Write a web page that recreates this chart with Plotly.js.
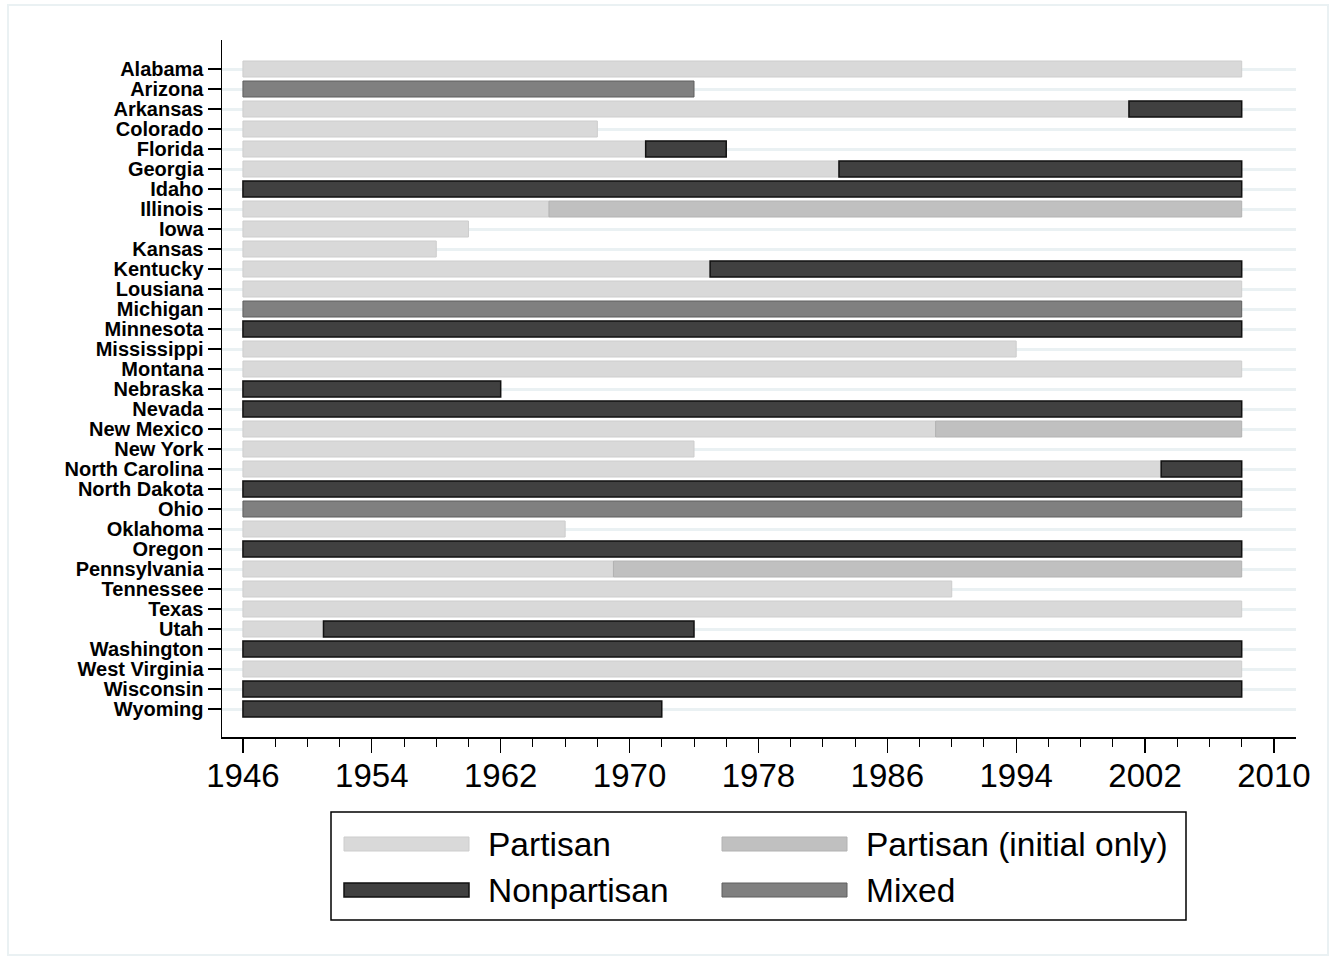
<!DOCTYPE html>
<html>
<head>
<meta charset="utf-8">
<script src="https://cdn.plot.ly/plotly-3.0.1.min.js"></script>
<style>html,body{margin:0;padding:0;background:#fff;}#chart{width:1333px;height:960px;}</style>
</head>
<body>
<div id="chart"></div>
<script>
// ---- Data ----
const states = ["Alabama","Arizona","Arkansas","Colorado","Florida","Georgia","Idaho","Illinois","Iowa","Kansas","Kentucky","Lousiana","Michigan","Minnesota","Mississippi","Montana","Nebraska","Nevada","New Mexico","New York","North Carolina","North Dakota","Ohio","Oklahoma","Oregon","Pennsylvania","Tennessee","Texas","Utah","Washington","West Virginia","Wisconsin","Wyoming"];

const partisanStates = ["Alabama","Arkansas","Colorado","Florida","Georgia","Illinois","Iowa","Kansas","Kentucky","Lousiana","Mississippi","Montana","New Mexico","New York","North Carolina","Oklahoma","Pennsylvania","Tennessee","Texas","Utah","West Virginia"];
const partisanStart  = [1946,1946,1946,1946,1946,1946,1946,1946,1946,1946,1946,1946,1946,1946,1946,1946,1946,1946,1946,1946,1946];
const partisanEnd    = [2008,2001,1968,1971,1983,1965,1960,1958,1975,2008,1994,2008,1989,1974,2003,1966,1969,1990,2008,1951,2008];

const initialStates = ["Illinois","New Mexico","Pennsylvania"];
const initialStart  = [1965,1989,1969];
const initialEnd    = [2008,2008,2008];

const nonpartisanStates = ["Arkansas","Florida","Georgia","Idaho","Kentucky","Minnesota","Nebraska","Nevada","North Carolina","North Dakota","Oregon","Utah","Washington","Wisconsin","Wyoming"];
const nonpartisanStart  = [2001,1971,1983,1946,1975,1946,1946,1946,2003,1946,1946,1951,1946,1946,1946];
const nonpartisanEnd    = [2008,1976,2008,2008,2008,2008,1962,2008,2008,2008,2008,1974,2008,2008,1972];

const mixedStates = ["Arizona","Michigan","Ohio"];
const mixedStart  = [1946,1946,1946];
const mixedEnd    = [1974,2008,2008];

const legendLabels = ["Partisan","Partisan (initial only)","Nonpartisan","Mixed"];

// ---- Styles ----
const styles = {
  "Partisan": {fill:"#d9d9d9", line:"#cdcdcd", lw:1},
  "Partisan (initial only)": {fill:"#c0c0c0", line:"#b2b2b2", lw:1},
  "Nonpartisan": {fill:"#404040", line:"#111111", lw:1.5},
  "Mixed": {fill:"#808080", line:"#5e5e5e", lw:1}
};

function seg(name, ys, s, e){
  const st = styles[name];
  return {
    type:"bar", orientation:"h", name:name,
    y: ys, base: s, x: e.map((v,i)=>v - s[i]),
    width: 0.8,
    marker:{color:st.fill, line:{color:st.line, width:st.lw}},
    showlegend:false, hoverinfo:"skip"
  };
}

const traces = [
  seg("Partisan", partisanStates, partisanStart, partisanEnd),
  seg("Partisan (initial only)", initialStates, initialStart, initialEnd),
  seg("Nonpartisan", nonpartisanStates, nonpartisanStart, nonpartisanEnd),
  seg("Mixed", mixedStates, mixedStart, mixedEnd)
];

// ---- Layout geometry ----
const L = 222, R = 1296, T = 40, B = 737;
const W = 1333, H = 960;
const pw = R - L, ph = B - T;
const px = v => (v - L) / pw;
const py = v => (B - v) / ph;

const shapes = [];
const annotations = [];

// outer light frame
shapes.push({type:"rect", xref:"paper", yref:"paper",
  x0: px(8), x1: px(1328), y0: py(955), y1: py(5),
  line:{color:"#eaf1f3", width:2}, fillcolor:"rgba(0,0,0,0)", layer:"below"});

// legend box
shapes.push({type:"rect", xref:"paper", yref:"paper",
  x0: px(331), x1: px(1186), y0: py(920), y1: py(812),
  line:{color:"#000", width:1.5}, fillcolor:"#fff"});

const legPos = [
  {sx:344, tx:486, cy:844},
  {sx:722, tx:864, cy:844},
  {sx:344, tx:486, cy:890},
  {sx:722, tx:864, cy:890}
];
legendLabels.forEach((lab,i)=>{
  const st = styles[lab], p = legPos[i];
  shapes.push({type:"rect", xref:"paper", yref:"paper",
    x0: px(p.sx), x1: px(p.sx+125), y0: py(p.cy+7), y1: py(p.cy-7),
    line:{color:st.line, width:st.lw}, fillcolor:st.fill});
  annotations.push({xref:"paper", yref:"paper", x: px(p.tx), y: py(p.cy),
    xanchor:"left", yanchor:"middle", showarrow:false, text: lab,
    font:{family:"Liberation Sans, Arial, sans-serif", size:33.5, color:"#000"}});
});

const layout = {
  width: W, height: H,
  margin:{l:L, r:W-R, t:T, b:H-B, pad:0},
  paper_bgcolor:"#fff", plot_bgcolor:"#fff",
  barmode:"overlay",
  font:{family:"Liberation Sans, Arial, sans-serif", color:"#000"},
  showlegend:false,
  xaxis:{
    range:[1944.7, 2011.37],
    tickmode:"linear", tick0:1946, dtick:8,
    ticks:"outside", ticklen:14, tickwidth:1.3, tickcolor:"#000",
    showline:true, linecolor:"#000", linewidth:1.5,
    showgrid:false, zeroline:false,
    tickfont:{size:33, color:"#000"},
    ticklabelstandoff:-5,
    minor:{tick0:1946, dtick:2, ticks:"outside", ticklen:8, tickwidth:1, tickcolor:"#000", showgrid:false}
  },
  yaxis:{
    type:"category", categoryorder:"array", categoryarray: states,
    tickmode:"linear", tick0:0, dtick:1,
    range:[33.4, -1.45],
    ticks:"outside", ticklen:13, tickwidth:1.3, tickcolor:"#000",
    showline:true, linecolor:"#000", linewidth:1.5,
    showgrid:true, gridcolor:"#eaf1f3", gridwidth:3,
    zeroline:false,
    tickfont:{size:20, color:"#000", family:"Liberation Sans, Arial, sans-serif", weight:"bold"}
  },
  shapes: shapes,
  annotations: annotations
};

Plotly.newPlot("chart", traces, layout, {displayModeBar:false, staticPlot:true});
</script>
</body>
</html>
